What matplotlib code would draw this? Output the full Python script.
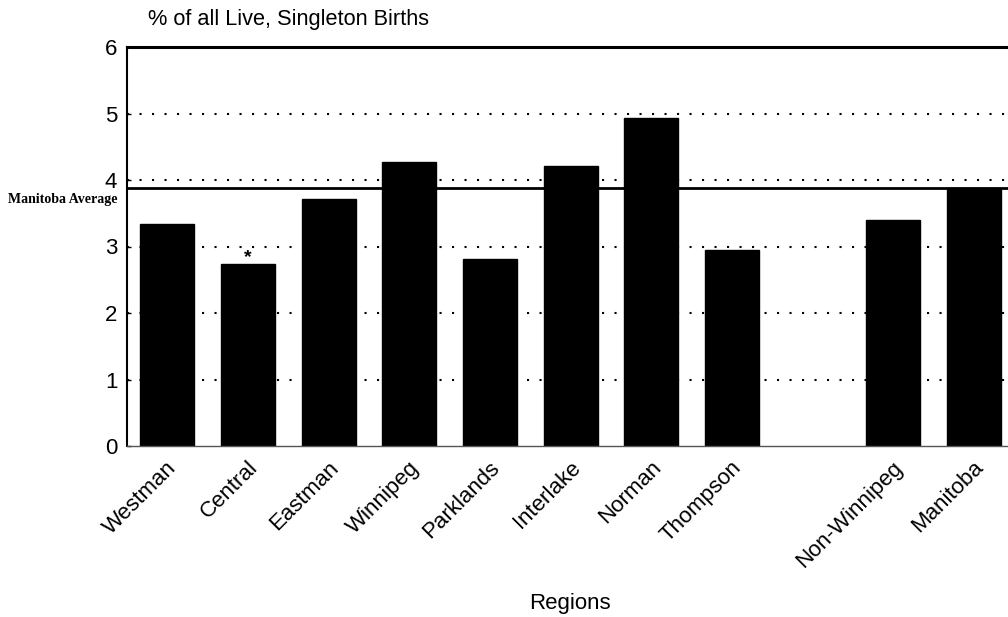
import matplotlib
matplotlib.use("Agg")
import matplotlib.pyplot as plt
import numpy as np
from matplotlib.transforms import ScaledTranslation

categories = ["Westman", "Central", "Eastman", "Winnipeg", "Parklands",
              "Interlake", "Norman", "Thompson", "Non-Winnipeg", "Manitoba"]
values = [3.34, 2.74, 3.71, 4.27, 2.81, 4.21, 4.93, 2.95, 3.40, 3.88]
flags = ["", "*", "", "", "", "", "", "", "", ""]
manitoba_average = 3.88
yticks = [0, 1, 2, 3, 4, 5, 6]

plt.rcParams['font.family'] = ['Liberation Sans', 'DejaVu Sans']

fig = plt.figure(figsize=(10.08, 6.17), dpi=100)
ax = fig.add_axes([127/1008, 1-446/617, 1-127/1008, (446-47)/617])

# positions: gap before the summary bars
x = np.array([i if i < 8 else i + 1 for i in range(len(categories))], dtype=float)

for yv in yticks[1:-1]:
    ax.axhline(yv, color="black", linestyle=(0, (1, 5)), linewidth=1.5,
               dash_capstyle="butt", zorder=1)
ax.axhline(manitoba_average, color="black", linewidth=2, zorder=1.5)

ax.bar(x, values, width=0.67, color="black", edgecolor="black", zorder=2)

for xi, v, f in zip(x, values, flags):
    if f:
        ax.annotate(f, (xi, v), xytext=(0, -2), textcoords="offset points",
                    ha="center", va="bottom", fontsize=14, fontweight="bold",
                    zorder=3)

ax.annotate("Manitoba Average", xy=(0, manitoba_average),
            xycoords=("axes fraction", "data"), xytext=(-7, -8),
            textcoords="offset points", ha="right", va="center",
            fontsize=10, fontweight="bold", family="Liberation Serif",
            annotation_clip=False)

ax.set_xlim(-0.5, 10.42)
ax.set_ylim(0, 6)
ax.set_yticks(yticks)
ax.set_yticklabels([str(t) for t in yticks], fontsize=16)
ax.tick_params(axis="y", direction="in", length=3, width=1, pad=7)
ax.set_xticks(x)
ax.set_xticklabels(categories, fontsize=16, rotation=45, ha="right",
                   va="top", rotation_mode="anchor")
ax.tick_params(axis="x", length=0, pad=8)
off = ScaledTranslation(-1/100, 0, fig.dpi_scale_trans)
for lbl in ax.get_xticklabels():
    lbl.set_transform(lbl.get_transform() + off)

ax.spines["top"].set_linewidth(2.2)
ax.spines["left"].set_linewidth(1.5)
ax.spines["bottom"].set_linewidth(1.0)
ax.spines["bottom"].set_color("#555555")
ax.spines["right"].set_visible(False)

fig.text(148/1008, 1-20/617, "% of all Live, Singleton Births",
         fontsize=15.7, ha="left", va="center")
fig.text(570/1008, 1-603/617, "Regions", fontsize=16, ha="center", va="center")

fig.savefig("out.png", dpi=100)
